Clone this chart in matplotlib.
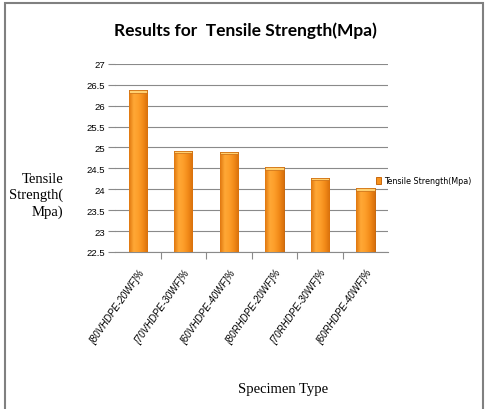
import matplotlib.pyplot as plt
import numpy as np
from matplotlib.colors import LinearSegmentedColormap
from matplotlib.patches import Rectangle

specimens = ['[80VHDPE-20WF]%', '[70VHDPE-30WF]%', '[60VHDPE-40WF]%',
             '[80RHDPE-20WF]%', '[70RHDPE-30WF]%', '[60RHDPE-40WF]%']
strength = [26.37, 24.92, 24.90, 24.52, 24.28, 24.02]
yticks = [22.5, 23, 23.5, 24, 24.5, 25, 25.5, 26, 26.5, 27]

fig = plt.figure(figsize=(4.92, 4.10), dpi=100)
fig.patches.append(Rectangle((5 / 492, -0.01), 478 / 492, 1.0, transform=fig.transFigure,
                             fill=False, edgecolor='#808080', linewidth=1.5))
ax = fig.add_axes([0.234, 0.383, 0.555, 0.459])

x = np.arange(len(specimens))
bars = ax.bar(x, [v - 22.5 for v in strength], bottom=22.5, width=0.4,
              color='#F7931E', edgecolor='#C8680E', linewidth=0.7, zorder=3,
              label='Tensile Strength(Mpa)')

# horizontal gradient on each bar
grad = LinearSegmentedColormap.from_list('og', ['#E0780F', '#FFA836', '#FD9E2A', '#F28A18', '#D8700C'])
g = np.linspace(0, 1, 64).reshape(1, -1)
for b in bars:
    x0, y0 = b.get_x(), b.get_y()
    im = ax.imshow(g, cmap=grad, aspect='auto', zorder=3.5,
                   extent=(x0, x0 + b.get_width(), y0, y0 + b.get_height()))
    im.set_clip_path(b)
# light top cap
ax.bar(x, 0.06, bottom=[v - 0.06 for v in strength], width=0.4,
       color='#FFD070', edgecolor='#C8680E', linewidth=0.5, zorder=4)

ax.set_xlim(-0.5, len(specimens) - 0.5)
ax.set_ylim(22.5, 27)
ax.set_yticks(yticks)
ax.set_yticklabels([f'{t:g}' for t in yticks], fontsize=6.8, family='Liberation Sans')
ax.yaxis.grid(True, color='#8a8a8a', linewidth=0.8, zorder=0)
ax.tick_params(axis='y', length=5, color='#8a8a8a', width=0.8, pad=2)

ax.set_xticks(x)
ax.set_xticklabels(specimens, rotation=55, ha='right', va='top', rotation_mode='anchor',
                   fontsize=7, style='italic', family='Liberation Sans')
ax.tick_params(axis='x', length=0, pad=11)
ax.set_xticks(np.arange(0.5, len(specimens) - 0.5), minor=True)
ax.tick_params(axis='x', which='minor', length=5, color='#8a8a8a', width=0.8)

for s in ['top', 'right', 'left']:
    ax.spines[s].set_visible(False)
ax.spines['bottom'].set_color('#8a8a8a')

fig.text(245 / 492, 1 - 31 / 410, 'Results for  Tensile Strength(Mpa)', ha='center', va='center',
         fontsize=12.5, fontweight='bold', family='Lato')
fig.text(63 / 492, 1 - 196 / 410, 'Tensile\nStrength(\nMpa)', ha='right', va='center',
         multialignment='right', fontsize=10.5, family='Liberation Serif', linespacing=1.3)
fig.text(283 / 492, 20 / 410, 'Specimen Type', ha='center', va='center',
         fontsize=10.5, family='Liberation Serif')

ax.legend(loc='center left', bbox_to_anchor=(372 / 492, 1 - 182 / 410),
          bbox_transform=fig.transFigure, frameon=False, fontsize=5.8,
          handlelength=0.6, handleheight=0.9, handletextpad=0.4, borderpad=0)

fig.savefig('out.png', dpi=100)
